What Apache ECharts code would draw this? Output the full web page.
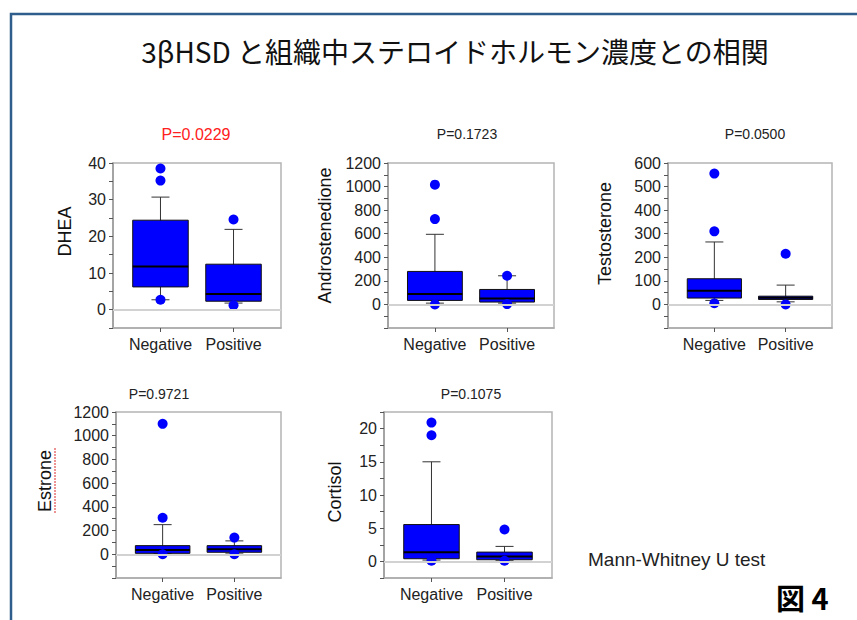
<!DOCTYPE html>
<html>
<head>
<meta charset="utf-8">
<title>3βHSD と組織中ステロイドホルモン濃度との相関</title>
<script src="https://cdn.jsdelivr.net/npm/echarts@6/dist/echarts.min.js"></script>
<style>
html, body { margin: 0; padding: 0; background: #fff; }
#main { width: 857px; height: 620px; }
</style>
</head>
<body>
<div id="main"></div>
<script>
const groups = ['Negative', 'Positive'];

// each box: [lower whisker, Q1, median, Q3, upper whisker]
// dots: [group index, value]
const dheaBox = [[2.7, 6.2, 11.8, 24.4, 30.7], [1.8, 2.3, 4.3, 12.4, 21.9]];
const dheaDots = [[0, 38.5], [0, 35.2], [0, 2.7], [1, 24.6], [1, 1.2]];
const dheaLabels = [0, 10, 20, 30, 40];
const dheaTicks = [-5, 0, 5, 10, 15, 20, 25, 30, 35, 40];

const androBox = [[11, 34, 88, 280, 595], [11, 20, 51, 127, 243]];
const androDots = [[0, 1016], [0, 724], [0, 0], [1, 243], [1, 3]];
const androLabels = [0, 200, 400, 600, 800, 1000, 1200];
const androTicks = [-200, -100, 0, 100, 200, 300, 400, 500, 600, 700, 800, 900, 1000, 1100, 1200];

const testoBox = [[17, 27, 58, 109, 265], [11, 21, 28, 35, 82]];
const testoDots = [[0, 555], [0, 310], [0, 5], [1, 215], [1, 0]];
const testoLabels = [0, 100, 200, 300, 400, 500, 600];
const testoTicks = [-100, -50, 0, 50, 100, 150, 200, 250, 300, 350, 400, 450, 500, 550, 600];

const estroneBox = [[5, 8, 36, 73, 250], [10, 17, 42, 73, 113]];
const estroneDots = [[0, 1100], [0, 308], [0, 0], [1, 141], [1, 0]];
const estroneLabels = [0, 200, 400, 600, 800, 1000, 1200];
const estroneTicks = [-200, -100, 0, 100, 200, 300, 400, 500, 600, 700, 800, 900, 1000, 1100, 1200];

const cortisolBox = [[0.2, 0.4, 1.36, 5.55, 15], [0.1, 0.25, 0.75, 1.4, 2.26]];
const cortisolDots = [[0, 20.9], [0, 19], [0, 0.1], [1, 4.8], [1, 0.1]];
const cortisolLabels = [0, 5, 10, 15, 20];
const cortisolTicks = [-2.5, 0, 2.5, 5, 7.5, 10, 12.5, 15, 17.5, 20, 22.5];

const panels = [
  { name: 'DHEA', p: 'P=0.0229', box: dheaBox, dots: dheaDots, labels: dheaLabels, ticks: dheaTicks, min: -5, max: 40 },
  { name: 'Androstenedione', p: 'P=0.1723', box: androBox, dots: androDots, labels: androLabels, ticks: androTicks, min: -200, max: 1200 },
  { name: 'Testosterone', p: 'P=0.0500', box: testoBox, dots: testoDots, labels: testoLabels, ticks: testoTicks, min: -100, max: 600 },
  { name: 'Estrone', p: 'P=0.9721', box: estroneBox, dots: estroneDots, labels: estroneLabels, ticks: estroneTicks, min: -200, max: 1200 },
  { name: 'Cortisol', p: 'P=0.1075', box: cortisolBox, dots: cortisolDots, labels: cortisolLabels, ticks: cortisolTicks, min: -2.5, max: 22.5 }
];

// layout for each panel: grid rect, name gap, upward shift of the axis name, p-value position
const layout = [
  { left: 113, top: 163, width: 168, height: 165, gap: 39, shift: 14, px: 196, py: 134, pSize: 16, pColor: '#ff2020' },
  { left: 388, top: 163, width: 166, height: 165, gap: 54, shift: 10, px: 467, py: 134, pSize: 14, pColor: '#222' },
  { left: 668, top: 163, width: 164, height: 165, gap: 54, shift: 12, px: 755, py: 134, pSize: 14, pColor: '#222' },
  { left: 116, top: 412, width: 165, height: 166, gap: 62, shift: 14, px: 159, py: 394, pSize: 14, pColor: '#222' },
  { left: 384, top: 412, width: 168, height: 166, gap: 40, shift: 3, px: 471, py: 394, pSize: 14, pColor: '#222' }
];

const font = '"Liberation Sans", Arial, sans-serif';
const cjk = '"Noto Sans CJK JP", sans-serif';

function renderBox(params, api) {
  const i = api.value(0);
  const p = [1, 2, 3, 4, 5].map(d => api.coord([i, api.value(d)]));
  const x = p[0][0];
  const half = api.size([0.76, 0])[0] / 2;
  const cap = 9;
  const thin = { stroke: '#333', lineWidth: 1 };
  return {
    type: 'group',
    children: [
      { type: 'line', shape: { x1: x, y1: p[0][1], x2: x, y2: p[4][1] }, style: thin },
      { type: 'line', shape: { x1: x - cap, y1: p[0][1], x2: x + cap, y2: p[0][1] }, style: thin },
      { type: 'line', shape: { x1: x - cap, y1: p[4][1], x2: x + cap, y2: p[4][1] }, style: thin },
      { type: 'rect', shape: { x: x - half, y: p[3][1], width: half * 2, height: p[1][1] - p[3][1] },
        style: { fill: '#0000ff', stroke: '#111', lineWidth: 1 } },
      { type: 'line', shape: { x1: x - half, y1: p[2][1], x2: x + half, y2: p[2][1] }, style: { stroke: '#000', lineWidth: 2 } }
    ]
  };
}

const grid = [], xAxis = [], yAxis = [], series = [];
const graphic = [
  { type: 'polyline', shape: { points: [[11, 620], [11, 14], [857, 14]] }, style: { stroke: '#2f5d8c', lineWidth: 2.5, fill: null } },
  { type: 'text', x: 455, y: 51, style: { text: '3βHSD と組織中ステロイドホルモン濃度との相関', font: '28px ' + cjk, fill: '#111', align: 'center', verticalAlign: 'middle' } },
  { type: 'text', x: 588, y: 559, style: { text: 'Mann-Whitney U test', font: '19px ' + font, fill: '#222', align: 'left', verticalAlign: 'middle' } },
  { type: 'text', x: 776, y: 597, style: { text: '図 4', font: 'bold 29px ' + cjk, fill: '#000', align: 'left', verticalAlign: 'middle' } },
  // spell-check underline under "Estrone"
  { type: 'line', shape: { x1: 55, y1: 448, x2: 55, y2: 513 }, style: { stroke: '#e87070', lineWidth: 1.5, lineDash: [2, 1] } }
];

panels.forEach((pn, k) => {
  const lo = layout[k];
  grid.push({ left: lo.left, top: lo.top, width: lo.width, height: lo.height, containLabel: false, outerBoundsMode: 'none',
    show: true, borderColor: '#b4b4b4', borderWidth: 1.5, backgroundColor: 'transparent' });
  xAxis.push({
    gridIndex: k, type: 'value', min: -0.65, max: 1.65,
    axisLine: { show: true, onZero: false, lineStyle: { color: '#aaa', width: 1.5 } },
    axisTick: { show: true, customValues: [0, 1], length: 4, lineStyle: { color: '#555' } },
    axisLabel: { customValues: [0, 1], formatter: v => groups[v], color: '#222', fontSize: 16, fontFamily: font, margin: 8 },
    splitLine: { show: false }
  });
  yAxis.push({
    gridIndex: k, type: 'value', min: pn.min, max: pn.max,
    name: pn.name, nameLocation: 'middle', nameGap: lo.gap,
    nameTextStyle: { fontSize: 18, fontFamily: font, color: '#111', padding: [0, 0, 0, lo.shift * 2] },
    axisLine: { show: true, onZero: false, lineStyle: { color: '#999', width: 1.5 } },
    axisTick: { show: true, customValues: pn.ticks, length: 4, lineStyle: { color: '#555' } },
    axisLabel: { customValues: pn.labels, formatter: v => String(v), color: '#222', fontSize: 16, fontFamily: font, margin: 7 },
    splitLine: { show: false }
  });
  series.push({
    type: 'custom', xAxisIndex: k, yAxisIndex: k, z: 2,
    renderItem: renderBox,
    encode: { x: 0, y: [1, 2, 3, 4, 5] },
    data: pn.box.map((b, i) => [i].concat(b)),
    markLine: { silent: true, symbol: 'none', label: { show: false },
      lineStyle: { color: '#d2d2d2', width: 2, type: 'solid' }, data: [{ yAxis: 0 }] }
  });
  series.push({
    type: 'scatter', xAxisIndex: k, yAxisIndex: k, z: 3,
    symbolSize: 10, itemStyle: { color: '#0000ff', opacity: 1 },
    data: pn.dots
  });
  graphic.push({ type: 'text', x: lo.px, y: lo.py,
    style: { text: pn.p, font: lo.pSize + 'px ' + font, fill: lo.pColor, align: 'center', verticalAlign: 'middle' } });
});

const chart = echarts.init(document.getElementById('main'), null, { renderer: 'svg' });
chart.setOption({
  animation: false,
  backgroundColor: '#fff',
  grid, xAxis, yAxis, series, graphic
});
</script>
</body>
</html>
